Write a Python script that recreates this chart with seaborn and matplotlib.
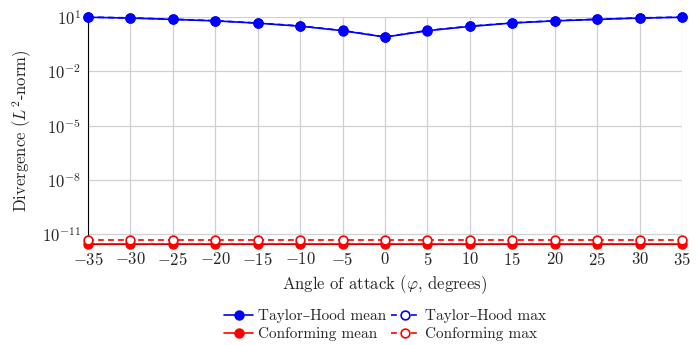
import numpy as np
import pandas as pd
import matplotlib
matplotlib.use("Agg")
import matplotlib.pyplot as plt
import seaborn as sns

# Angle of attack (degrees)
angles = [-35, -30, -25, -20, -15, -10, -5, 0, 5, 10, 15, 20, 25, 30, 35]

# Divergence (L2-norm) per angle
th_mean = [10.0, 9.0, 7.6, 6.3, 4.7, 3.2, 1.8, 0.8, 1.8, 3.1, 4.8, 6.3, 7.6, 9.0, 10.0]
th_max = [10.2, 9.2, 7.8, 6.4, 4.8, 3.3, 1.85, 0.82, 1.85, 3.2, 4.9, 6.4, 7.8, 9.2, 10.2]
cf_mean = [2.8e-12] * 15
cf_max = [4.4e-12] * 15

ytick_exponents = [-11, -8, -5, -2, 1]

sns.set_style("whitegrid")
plt.rcParams["font.family"] = ["cmr10", "DejaVu Serif"]
plt.rcParams["mathtext.fontset"] = "cm"
plt.rcParams["axes.formatter.use_mathtext"] = True
plt.rcParams["axes.unicode_minus"] = True

fig = plt.figure(figsize=(7.0, 3.45), dpi=100)
ax = fig.add_axes([0.1257, 0.2928, 0.9743 - 0.1257, 0.95 - 0.2928])

df = pd.DataFrame({
    "angle": angles * 4,
    "value": th_mean + cf_mean + th_max + cf_max,
    "series": (["Taylor–Hood mean"] * 15 + ["Conforming mean"] * 15
               + ["Taylor–Hood max"] * 15 + ["Conforming max"] * 15),
})

dash = (0, (3.5, 2.5))
styles = {
    "Taylor–Hood max": dict(color="#0000ff", ls=dash, mfc="white"),
    "Taylor–Hood mean": dict(color="#0000ff", ls="-", mfc="#0000ff"),
    "Conforming mean": dict(color="#ff0000", ls="-", mfc="#ff0000"),
    "Conforming max": dict(color="#ff0000", ls=dash, mfc="white"),
}

for name, st in styles.items():
    sub = df[df["series"] == name]
    sns.lineplot(data=sub, x="angle", y="value", ax=ax, color=st["color"],
                 linestyle=st["ls"], marker="o", markersize=6.3,
                 markerfacecolor=st["mfc"], markeredgecolor=st["color"],
                 markeredgewidth=1.2, linewidth=1.2, label=name,
                 clip_on=False, zorder=3, legend=False)

ax.set_yscale("log")
ax.set_xlim(min(angles), max(angles))
ax.set_ylim(min(cf_mean), max(th_mean))
ax.set_xticks(angles)
ax.set_yticks([10.0 ** e for e in ytick_exponents])
ax.yaxis.set_minor_locator(matplotlib.ticker.NullLocator())

ax.grid(True, color="#d0d0d0", linewidth=0.9)
for side in ["top", "right"]:
    ax.spines[side].set_visible(False)
for side in ["left", "bottom"]:
    ax.spines[side].set_visible(True)
    ax.spines[side].set_color("black")
    ax.spines[side].set_linewidth(0.8)

ax.tick_params(axis="both", labelsize=12, length=3, color="#888888", direction="inout")
ax.set_xlabel(r"Angle of attack ($\varphi$, degrees)", fontsize=12, labelpad=4)
ax.set_ylabel(r"Divergence ($L^2$-norm)", fontsize=12, labelpad=6)

handles, labels = ax.get_legend_handles_labels()
order = ["Taylor–Hood mean", "Conforming mean", "Taylor–Hood max", "Conforming max"]
hmap = dict(zip(labels, handles))
ax.legend([hmap[k] for k in order], order, ncol=2, loc="upper center",
          bbox_to_anchor=(0.5, -0.24), frameon=False, fontsize=11,
          handlelength=1.9, handletextpad=0.3, columnspacing=0.3,
          labelspacing=0.25, borderpad=0.2)

fig.savefig("out.png", dpi=100)
